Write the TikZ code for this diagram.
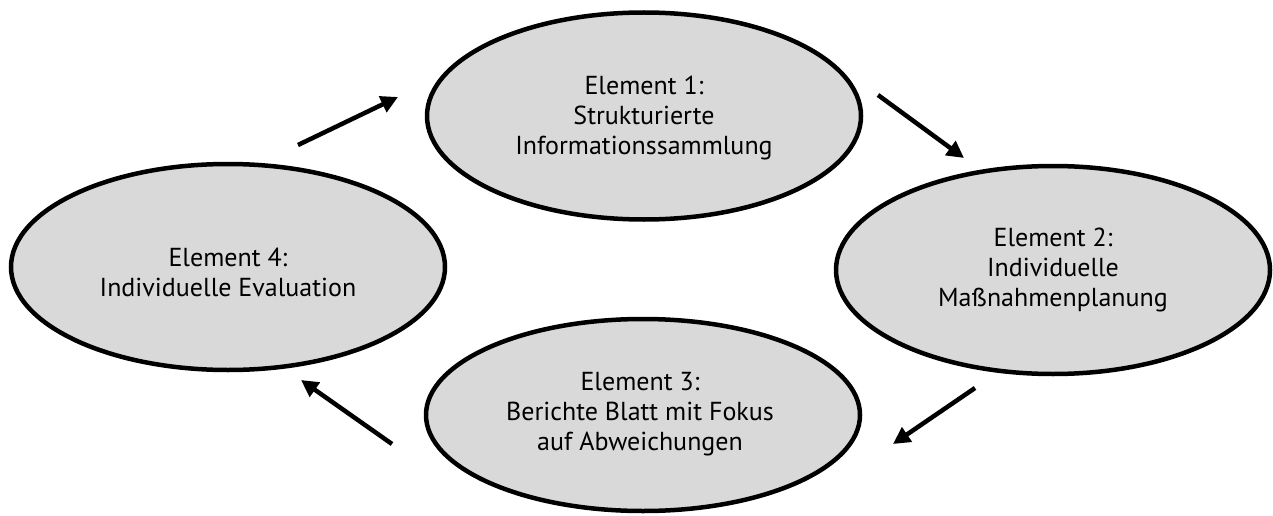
\documentclass[tikz,border=0pt]{standalone}
\usepackage{fontspec}
\setmainfont{PT Sans}
\usetikzlibrary{shapes.geometric,arrows.meta}
\definecolor{ellfill}{HTML}{D9D9D9}
\tikzset{
  elli/.style={ellipse, draw=black, line width=4.5pt, fill=ellfill, inner sep=0pt},
  lbl/.style={align=center, font=\fontsize{26}{30}\selectfont, inner sep=0pt},
  flow/.style={line width=4.5pt, -{Triangle[length=17pt,width=17pt]}}
}
\begin{document}
\begin{tikzpicture}[x=1pt,y=-1pt]
\useasboundingbox (0,0) rectangle (1273,516);
\node[elli, minimum width=434pt, minimum height=207pt] (e1) at (644,116) {};
\node[elli, minimum width=434pt, minimum height=208pt] (e2) at (1053,270) {};
\node[elli, minimum width=434pt, minimum height=206pt] (e4) at (228,267) {};
\node[elli, minimum width=434pt, minimum height=192pt] (e3) at (643,415) {};
\node[lbl] (t1) at (644,118) {Element 1:\\Strukturierte\\Informationssammlung};
\node[lbl] (t2) at (1053,270) {Element 2:\\Individuelle\\Maßnahmenplanung};
\node[lbl] (t4) at (228,272) {Element 4:\\Individuelle Evaluation};
\node[lbl] (t3) at (640,414) {Element 3:\\Berichte Blatt mit Fokus\\auf Abweichungen};
\coordinate (a1s) at (298,145); \coordinate (a1e) at (398,97);
\coordinate (a2s) at (878,95);  \coordinate (a2e) at (964,158);
\coordinate (a3s) at (975,388); \coordinate (a3e) at (893,444);
\coordinate (a4s) at (392,444); \coordinate (a4e) at (301,380);
\draw[flow] (a1s) -- (a1e);
\draw[flow] (a2s) -- (a2e);
\draw[flow] (a3s) -- (a3e);
\draw[flow] (a4s) -- (a4e);
\end{tikzpicture}
\end{document}
